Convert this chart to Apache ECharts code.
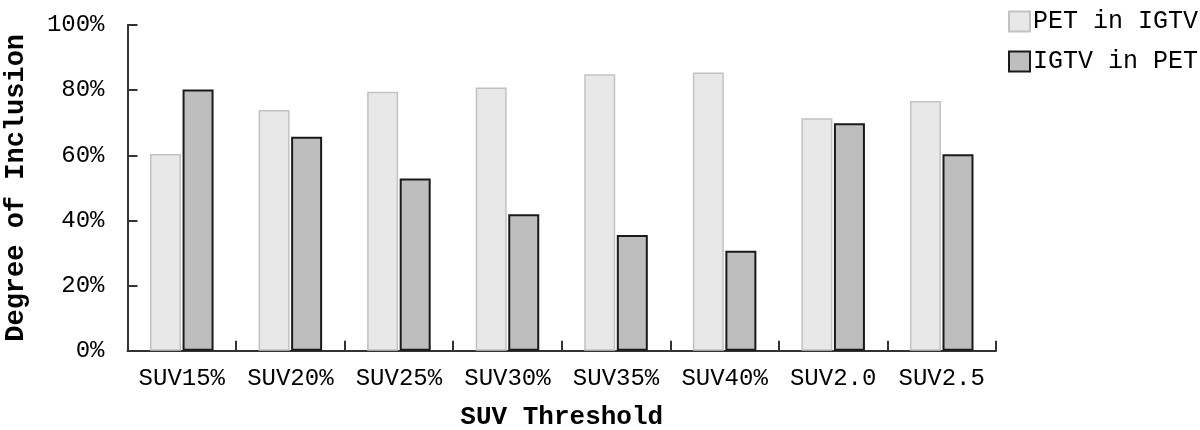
<!DOCTYPE html>
<html>
<head>
<meta charset="utf-8">
<script src="https://cdn.jsdelivr.net/npm/echarts@6/dist/echarts.min.js"></script>
<style>html,body{margin:0;padding:0;background:#fff}#c{width:1200px;height:430px}</style>
</head>
<body>
<div id="c"></div>
<script>
const categories = ['SUV15%', 'SUV20%', 'SUV25%', 'SUV30%', 'SUV35%', 'SUV40%', 'SUV2.0', 'SUV2.5'];
const petInIgtv = [60.4, 73.9, 79.5, 80.8, 84.9, 85.4, 71.4, 76.7];
const igtvInPet = [80.2, 65.7, 52.9, 41.9, 35.5, 30.7, 69.8, 60.3];
const seriesNames = ['PET in IGTV', 'IGTV in PET'];

const FONT = '"Liberation Mono", "DejaVu Sans Mono", monospace';
const chart = echarts.init(document.getElementById('c'), null, {renderer: 'canvas'});
chart.setOption({
  animation: false,
  backgroundColor: '#fff',
  grid: {left: 127.5, right: 204, top: 25, bottom: 79.3, containLabel: false, outerBoundsMode: 'none'},
  legend: {
    orient: 'vertical', left: 1003, top: 4,
    itemWidth: 21, itemHeight: 20, itemGap: 15,
    icon: 'rect',
    textStyle: {fontFamily: FONT, fontSize: 25, color: '#000', padding: [0, 0, 0, -2]},
    data: seriesNames
  },
  xAxis: {
    type: 'category', data: categories, boundaryGap: true,
    name: 'SUV Threshold', nameLocation: 'middle', nameGap: 54,
    nameTextStyle: {fontFamily: FONT, fontSize: 26, fontWeight: 'bold', color: '#000'},
    axisLine: {show: true, lineStyle: {color: '#333', width: 2}},
    axisTick: {show: true, alignWithLabel: false, interval: 0, inside: true, length: 10, lineStyle: {color: '#333', width: 2}},
    axisLabel: {fontFamily: FONT, fontSize: 24, color: '#000', margin: 16, interval: 0}
  },
  yAxis: {
    type: 'value', min: 0, max: 100, interval: 20,
    name: 'Degree of Inclusion', nameLocation: 'middle', nameGap: 98, nameRotate: 90,
    nameTextStyle: {fontFamily: FONT, fontSize: 27, fontWeight: 'bold', color: '#000'},
    axisLine: {show: true, lineStyle: {color: '#333', width: 2}},
    axisTick: {show: true, inside: true, length: 10, lineStyle: {color: '#333', width: 2}},
    splitLine: {show: false},
    axisLabel: {fontFamily: FONT, fontSize: 24, color: '#000', margin: 23, formatter: '{value}%'}
  },
  series: [
    {name: seriesNames[0], type: 'bar', data: petInIgtv, barWidth: 31, barGap: '5%',
     itemStyle: {color: '#e8e8e8', borderColor: '#c2c2c2', borderWidth: 1.5}},
    {name: seriesNames[1], type: 'bar', data: igtvInPet, barWidth: 31, barGap: '5%',
     itemStyle: {color: '#bebebe', borderColor: '#1a1a1a', borderWidth: 2}}
  ]
});
</script>
</body>
</html>
